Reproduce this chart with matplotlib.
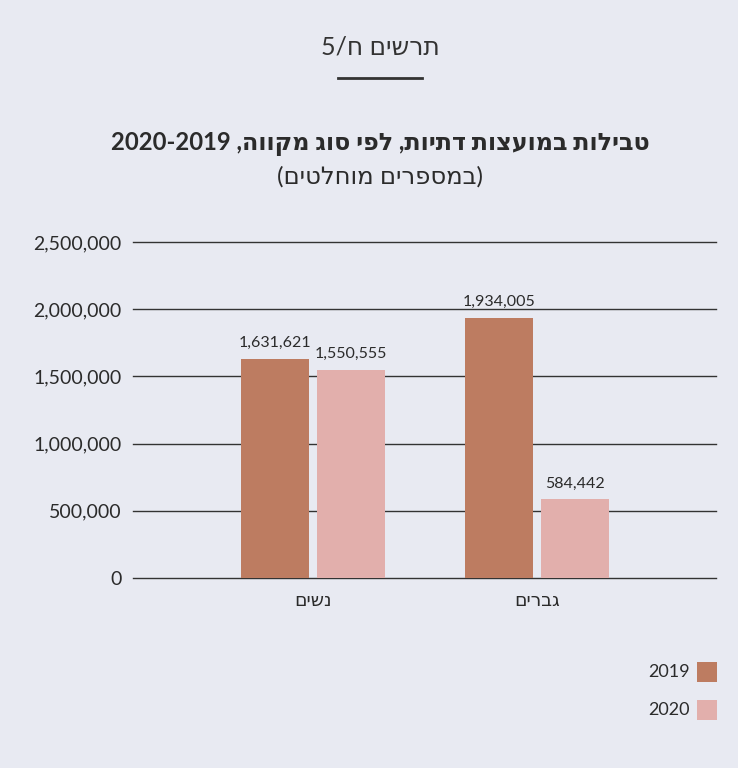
import re
import matplotlib
matplotlib.use("Agg")
import matplotlib.pyplot as plt
from matplotlib.patches import Rectangle
from matplotlib.lines import Line2D

plt.rcParams['font.family'] = ['Lato', 'DejaVu Sans']

# ---- data ----
categories = ["נשים", "גברים"]
series_names = ["2019", "2020"]
values_2019 = [1631621, 1934005]
values_2020 = [1550555, 584442]
y_ticks = [0, 500000, 1000000, 1500000, 2000000, 2500000]
header_text = "תרשים ח/5"
title_text = "טבילות במועצות דתיות, לפי סוג מקווה, 2020-2019"
subtitle_text = "(במספרים מוחלטים)"

colors = ["#bd7c61", "#e2afac"]
bg = "#e8eaf2"
txt = "#2b2b2b"


def vis(s):
    """Simple RTL -> visual order conversion for matplotlib."""
    r = s[::-1]
    r = re.sub(r'[0-9][0-9\-/.,]*[0-9]|[0-9]', lambda m: m.group()[::-1], r)
    r = r.translate(str.maketrans({'(': ')', ')': '('}))
    return r


W, H = 743, 768
fig = plt.figure(figsize=(W / 100, H / 100), dpi=100)
fig.patch.set_facecolor(bg)

ax = fig.add_axes([133 / W, 1 - 578 / H, (716 - 133) / W, (578 - 242) / H])
ax.set_facecolor(bg)

x = list(range(len(categories)))
bw = 0.3036
off = 0.1696
series = [values_2019, values_2020]
for i, (vals, c) in enumerate(zip(series, colors)):
    xs = [xi + (-off if i == 0 else off) for xi in x]
    bars = ax.bar(xs, vals, width=bw, color=c, zorder=3)
    for b, v in zip(bars, vals):
        ax.text(b.get_x() + b.get_width() / 2, v + 65000, f"{v:,}",
                ha='center', va='bottom', fontsize=11.5, color=txt)

ax.set_xlim(-0.804, 1.799)
ax.set_ylim(0, 2500000)
ax.set_yticks(y_ticks)
ax.set_yticklabels([f"{t:,}" for t in y_ticks], fontsize=14, color=txt)
for t in y_ticks:
    ax.axhline(t, color="#333333", lw=1.0, zorder=2, clip_on=False)
ax.set_xticks(x)
ax.set_xticklabels([vis(c) for c in categories], fontsize=13.5, color=txt)
ax.tick_params(axis='both', length=0)
ax.tick_params(axis='y', pad=8)
ax.tick_params(axis='x', pad=10)
for s in ax.spines.values():
    s.set_visible(False)

# header and titles
fig.text(380 / W, 1 - 47 / H, vis(header_text), ha='center', va='center',
         fontsize=18, color="#333333")
fig.add_artist(Line2D([338 / W, 422 / W], [1 - 78 / H, 1 - 78 / H],
                      color="#333333", lw=2))
fig.text(380 / W, 1 - 144 / H, vis(title_text), ha='center', va='center',
         fontsize=17.2, fontweight='bold', color=txt)
fig.text(380 / W, 1 - 177 / H, vis(subtitle_text), ha='center', va='center',
         fontsize=17.5, color=txt)

# legend
for i, (name, c) in enumerate(zip(series_names, colors)):
    yc = 672 + i * 38
    fig.add_artist(Rectangle((697 / W, 1 - (yc + 10) / H), 20 / W, 20 / H,
                             facecolor=c, edgecolor='none'))
    fig.text(690 / W, 1 - yc / H, name, ha='right', va='center',
             fontsize=13, color=txt)

# white border strip on right
fig.add_artist(Rectangle((738 / W, 0), 5 / W, 1, facecolor='white', edgecolor='none'))

fig.savefig("out.png", dpi=100, facecolor=bg)
